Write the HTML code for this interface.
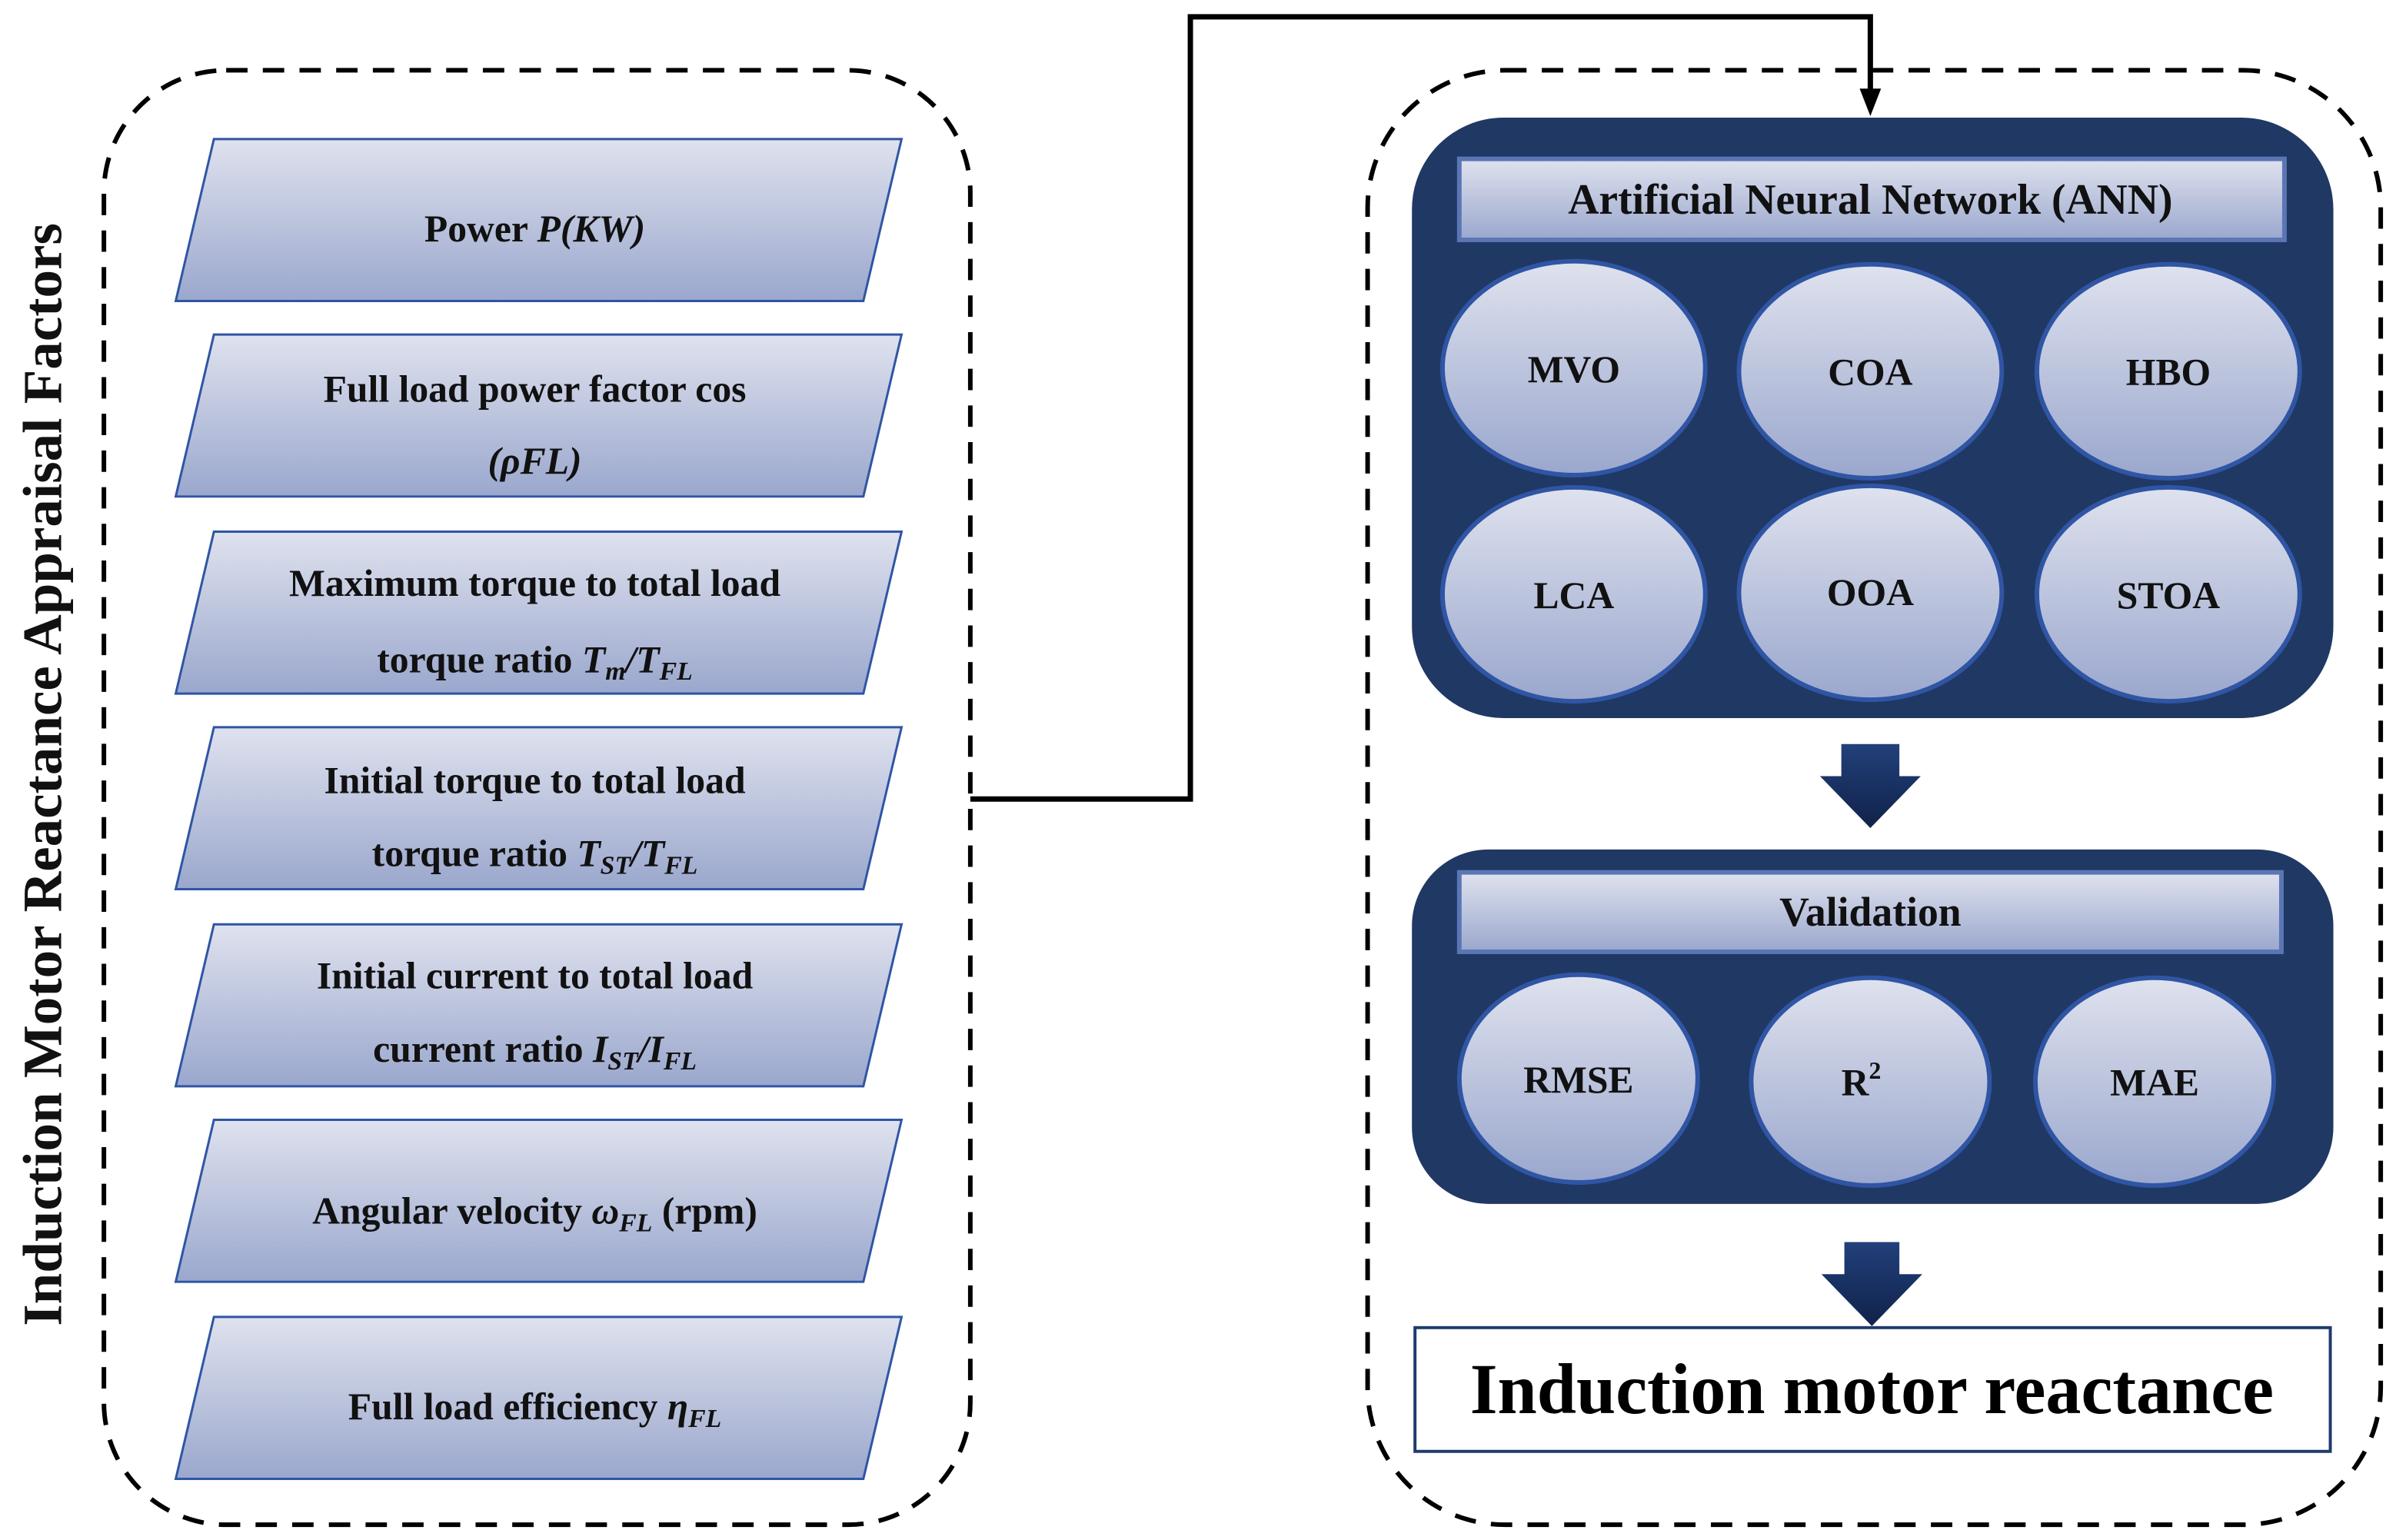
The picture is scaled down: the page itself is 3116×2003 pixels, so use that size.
<!DOCTYPE html>
<html><head><meta charset="utf-8"><style>html,body{margin:0;padding:0;background:#fff}svg{display:block}</style></head><body>
<svg width="3116" height="2003" viewBox="0 0 1568 1008" preserveAspectRatio="none" xmlns="http://www.w3.org/2000/svg" font-family="Liberation Serif, serif" font-weight="bold">
<defs>
<linearGradient id="g" x1="0" y1="0" x2="0" y2="1"><stop offset="0" stop-color="#dfe2ee"/><stop offset="1" stop-color="#9aa7cd"/></linearGradient>
<linearGradient id="ga" x1="0" y1="0" x2="0" y2="1"><stop offset="0" stop-color="#22407a"/><stop offset="1" stop-color="#10224a"/></linearGradient>
</defs>
<rect x="68" y="46" width="567" height="952" rx="80" fill="none" stroke="#000" stroke-width="3" stroke-dasharray="14,10"/>
<rect x="895" y="46" width="663" height="952" rx="90" fill="none" stroke="#000" stroke-width="3" stroke-dasharray="14,10"/>
<text transform="translate(40,507) rotate(-90)" text-anchor="middle" font-size="36" fill="#111" textLength="722" lengthAdjust="spacingAndGlyphs">Induction Motor Reactance Appraisal Factors</text>
<g stroke="#2f55a4" stroke-width="1.5" fill="url(#g)">
<path d="M140,91 L590,91 L565,197 L115,197 z"/>
<path d="M140,219 L590,219 L565,325 L115,325 z"/>
<path d="M140,348 L590,348 L565,454 L115,454 z"/>
<path d="M140,476 L590,476 L565,582 L115,582 z"/>
<path d="M140,605 L590,605 L565,711 L115,711 z"/>
<path d="M140,733 L590,733 L565,839 L115,839 z"/>
<path d="M140,862 L590,862 L565,968 L115,968 z"/>
</g>
<g font-size="25" fill="#111" text-anchor="middle">
<text x="350" y="158">Power <tspan font-style="italic">P(KW)</tspan></text>
<text x="350" y="263">Full load power factor cos</text>
<text x="350" y="310" font-style="italic">(ρFL)</text>
<text x="350" y="390">Maximum torque to total load</text>
<text x="350" y="440">torque ratio <tspan font-style="italic">T<tspan font-size="17" dy="5">m</tspan><tspan dy="-5">/T</tspan><tspan font-size="17" dy="5">FL</tspan></tspan></text>
<text x="350" y="519">Initial torque to total load</text>
<text x="350" y="567">torque ratio <tspan font-style="italic">T<tspan font-size="17" dy="5">ST</tspan><tspan dy="-5">/T</tspan><tspan font-size="17" dy="5">FL</tspan></tspan></text>
<text x="350" y="647">Initial current to total load</text>
<text x="350" y="695">current ratio <tspan font-style="italic">I<tspan font-size="17" dy="5">ST</tspan><tspan dy="-5">/I</tspan><tspan font-size="17" dy="5">FL</tspan></tspan></text>
<text x="350" y="801">Angular velocity <tspan font-style="italic">ω<tspan font-size="17" dy="5">FL</tspan></tspan><tspan dy="-5"> (rpm)</tspan></text>
<text x="350" y="929">Full load efficiency <tspan font-style="italic">η<tspan font-size="17" dy="5">FL</tspan></tspan></text>
</g>
<path d="M635,523 L779,523 L779,11 L1224,11 L1224,62" fill="none" stroke="#000" stroke-width="3.5"/>
<path d="M1217,58 L1231,58 L1224,76 z" fill="#000"/>
<rect x="924" y="77" width="603" height="393" rx="60" fill="#203864"/>
<rect x="955" y="104" width="540" height="53" fill="url(#g)" stroke="#5b76b5" stroke-width="3"/>
<text x="1224" y="140" text-anchor="middle" font-size="28" fill="#111">Artificial Neural Network (ANN)</text>
<g fill="url(#g)" stroke="#2f55a4" stroke-width="3">
<ellipse cx="1030" cy="241" rx="86" ry="70"/><ellipse cx="1224" cy="243" rx="86" ry="70"/><ellipse cx="1419" cy="243" rx="86" ry="70"/>
<ellipse cx="1030" cy="389" rx="86" ry="70"/><ellipse cx="1224" cy="388" rx="86" ry="70"/><ellipse cx="1419" cy="389" rx="86" ry="70"/>
</g>
<g font-size="25" fill="#111" text-anchor="middle">
<text x="1030" y="250">MVO</text><text x="1224" y="252">COA</text><text x="1419" y="252">HBO</text>
<text x="1030" y="398">LCA</text><text x="1224" y="396">OOA</text><text x="1419" y="398">STOA</text>
</g>
<path d="M1205,487 L1243,487 L1243,508 L1257,508 L1224,542 L1191,508 L1205,508 z" fill="url(#ga)"/>
<rect x="924" y="556" width="603" height="232" rx="50" fill="#203864"/>
<rect x="955" y="571" width="538" height="52" fill="url(#g)" stroke="#5b76b5" stroke-width="3"/>
<text x="1224" y="606" text-anchor="middle" font-size="27" fill="#111">Validation</text>
<g fill="url(#g)" stroke="#2f55a4" stroke-width="3">
<ellipse cx="1033" cy="706" rx="78" ry="68"/><ellipse cx="1224" cy="708" rx="78" ry="68"/><ellipse cx="1410" cy="708" rx="78" ry="68"/>
</g>
<g font-size="25" fill="#111" text-anchor="middle">
<text x="1033" y="715">RMSE</text><text x="1218" y="717">R<tspan font-size="16" dy="-11">2</tspan></text><text x="1410" y="717">MAE</text>
</g>
<path d="M1207,813 L1243,813 L1243,834 L1258,834 L1225,868 L1192,834 L1207,834 z" fill="url(#ga)"/>
<rect x="926" y="869" width="599" height="81" fill="#fff" stroke="#1f3a6e" stroke-width="2"/>
<text x="1225" y="925" text-anchor="middle" font-size="47" fill="#000" textLength="526" lengthAdjust="spacingAndGlyphs">Induction motor reactance</text>
</svg>
</body></html>
